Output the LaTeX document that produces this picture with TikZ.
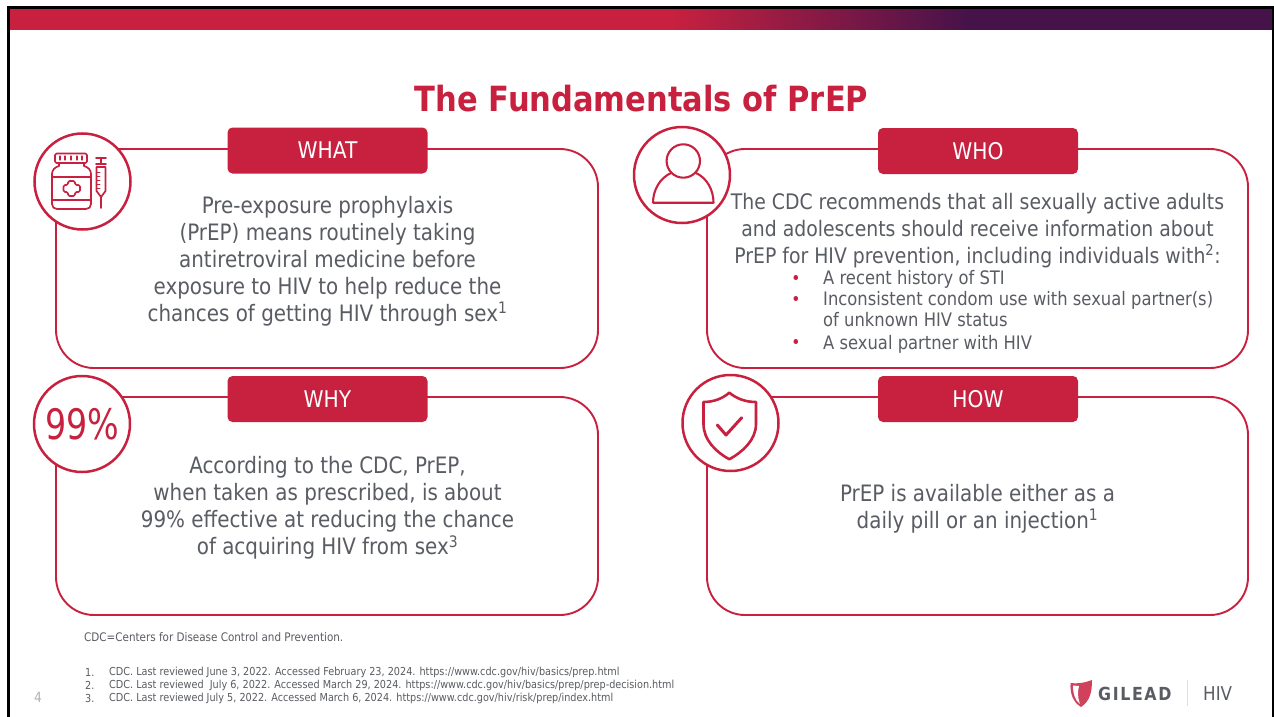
\documentclass[tikz,border=0pt]{standalone}
\usepackage{fontspec}
\setmainfont[FakeStretch=0.88]{DejaVu Sans}
\usetikzlibrary{calc}
\definecolor{gred}{HTML}{C8213F}
\definecolor{gpurple}{HTML}{45124A}
\definecolor{gtext}{HTML}{595C62}
\tikzset{
  panel/.style={draw=gred,line width=1.9pt,rounded corners=38pt,fill=white},
  tag/.style={fill=gred,text=white,rounded corners=5pt,minimum width=200pt,minimum height=46pt,inner sep=0pt,font=\fontsize{23}{27}\selectfont},
  badge/.style={circle,draw=gred,line width=2.5pt,fill=white,minimum size=96pt,inner sep=0pt},
  body/.style={text=gtext,align=center,font=\fontsize{22.6}{27}\selectfont,inner sep=0pt},
  bodywho/.style={text=gtext,align=center,font=\fontsize{21.4}{27}\selectfont,inner sep=0pt},
  icon/.style={draw=gred,line width=1.7pt,line join=round,line cap=round},
  small/.style={text=gtext,anchor=west,inner sep=0pt,font=\fontsize{11}{12}\selectfont},
  dotmark/.style={text=gred,inner sep=0pt,font=\fontsize{17.5}{21}\selectfont},
  item/.style={text=gtext,anchor=west,inner sep=0pt,font=\fontsize{18.6}{21.5}\selectfont}
}
\begin{document}
\begin{tikzpicture}[x=1pt,y=-1pt]
\useasboundingbox (0,0) rectangle (1274,717);
\fill[white] (0,0) rectangle (1274,717);
% frame and bar
\fill[gred] (9,9) rectangle (671,30);
\shade[left color=gred,right color=gpurple,shading angle=90] (670,9) rectangle (970,30);
\fill[gpurple] (969,9) rectangle (1272,30);
\fill[black] (7,6) rectangle (1274,9);
\fill[black] (7,6) rectangle (9.5,717);
\fill[black] (1272,6) rectangle (1273.5,717);
\node[text=gred,font=\bfseries\fontsize{34.7}{40}\selectfont,inner sep=0pt] (title) at (641.5,98.5) {The Fundamentals of PrEP};
% panels
\node[panel,minimum width=542pt,minimum height=219pt] (pwhat) at (327,258.5) {};
\node[panel,minimum width=541pt,minimum height=219pt] (pwho) at (977.5,258.5) {};
\node[panel,minimum width=542pt,minimum height=218pt] (pwhy) at (327,506) {};
\node[panel,minimum width=541pt,minimum height=218pt] (phow) at (977.5,506) {};
% tags
\node[tag] (twhat) at (327.5,150.5) {WHAT};
\node[tag] (twho) at (978,151) {WHO};
\node[tag] (twhy) at (327.5,399) {WHY};
\node[tag] (thow) at (978,399) {HOW};
% badges
\node[badge] (bwhat) at (82.5,181.5) {};
\node[badge] (bwho) at (682,175) {};
\node[badge] (bwhy) at (82,424) {};
\node[text=gred,inner sep=0pt,font=\fontsize{42}{46}\selectfont,xscale=.9] (pct) at (bwhy) {99\%};
\node[badge] (bhow) at (730.5,423) {};
% bottle and syringe
\draw[icon,rounded corners=1.5pt] (55,153.5) rectangle (87,163);
\draw[icon,line width=1.2pt] (60,156) -- (60,160) (65,156) -- (65,160) (71,156) -- (71,160) (77,156) -- (77,160) (82,156) -- (82,160);
\draw[icon] (59,163) -- (59,166) .. controls (55,167) and (52,170) .. (52,174) -- (52,204) .. controls (52,207) and (54,209) .. (57,209) -- (86,209) .. controls (89,209) and (91,207) .. (91,204) -- (91,174) .. controls (91,170) and (88,167) .. (84,166) -- (84,163);
\draw[icon] (52,177) -- (91,177) (52,200) -- (91,200);
\draw[icon,rounded corners=1.5pt] (68,181) -- (75,181) -- (75,185) -- (80,185) -- (80,192) -- (75,192) -- (75,196) -- (68,196) -- (68,192) -- (63.5,192) -- (63.5,185) -- (68,185) -- cycle;
\draw[icon] (96,158) -- (106,158) (101,158) -- (101,164) (96,164) -- (106,164) (96.5,167) -- (105.5,167) -- (105.5,191) -- (101,197) -- (96.5,191) -- cycle (101,197) -- (101,208);
\draw[icon,line width=.9pt] (96.5,172) -- (100,172) (96.5,176) -- (100,176) (96.5,180) -- (100,180) (96.5,184) -- (100,184) (96.5,188) -- (100,188);
% person
\draw[icon,line width=2.1pt] (683.3,161) circle (16.7pt);
\draw[icon,line width=2.1pt] (653,202.7) .. controls (653,190) and (660,178) .. (671,173) (696,173) .. controls (707,178) and (713.5,190) .. (713.5,202.7) -- (653,202.7);
% shield
\draw[icon,line width=2.6pt] (729.3,392.7) .. controls (722,399) and (713,402) .. (703.5,402) -- (703.5,424) .. controls (703.5,440) and (716,452) .. (729.3,459.3) .. controls (742.5,452) and (756,440) .. (756,424) -- (756,402) .. controls (746,402) and (737,399) .. (729.3,392.7) -- cycle;
\draw[icon,line width=3pt] (717.3,425) -- (726,435) -- (741.7,417.7);
% body text
\node[body] (xwhat) at (327.5,261) {Pre-exposure prophylaxis\\(PrEP) means routinely taking\\antiretroviral medicine before\\exposure to HIV to help reduce the\\chances of getting HIV through sex\textsuperscript{1}};
\node[bodywho] (xwho) at (977.5,230.5) {The CDC recommends that all sexually active adults\\and adolescents should receive information about\\PrEP for HIV prevention, including individuals with\textsuperscript{2}:};
\node[dotmark] (d1) at (796,279.5) {•};
\node[dotmark] (d2) at (796,301) {•};
\node[dotmark] (d3) at (796,344) {•};
\node[item] (li1) at (823,279.5) {A recent history of STI};
\node[item,anchor=north west,align=left] (li2) at (823,291) {Inconsistent condom use with sexual partner(s)\\of unknown HIV status};
\node[item] (li3) at (823,344) {A sexual partner with HIV};
\node[body] (xwhy) at (327.5,508) {According to the CDC, PrEP,\\when taken as prescribed, is about\\99\% effective at reducing the chance\\of acquiring HIV from sex\textsuperscript{3}};
\node[body] (xhow) at (977.5,508.5) {PrEP is available either as a\\daily pill or an injection\textsuperscript{1}};
% footnotes
\node[small,font=\fontsize{11.8}{13}\selectfont] (abbr) at (84,637.5) {CDC=Centers for Disease Control and Prevention.};
\node[small] (n1) at (85,672.5) {1.};
\node[small] (n2) at (85,685.5) {2.};
\node[small] (n3) at (85,698) {3.};
\node[small] (r1) at (109,672.5) {CDC. Last reviewed June 3, 2022. Accessed February 23, 2024. https://www.cdc.gov/hiv/basics/prep.html};
\node[small] (r2) at (109,685.5) {CDC. Last reviewed~ July 6, 2022. Accessed March 29, 2024. https://www.cdc.gov/hiv/basics/prep/prep-decision.html};
\node[small] (r3) at (109,698) {CDC. Last reviewed July 5, 2022. Accessed March 6, 2024. https://www.cdc.gov/hiv/risk/prep/index.html};
\node[text=black!30,inner sep=0pt,font=\fontsize{14}{16}\selectfont] (pg) at (38,697) {4};
% logo
\fill[gred!85!white] (1070.5,683) .. controls (1077,684) and (1084,683) .. (1092,680) .. controls (1092,692) and (1090,701) .. (1081,707) .. controls (1073,702) and (1070,694) .. (1070.5,683) -- cycle;
\fill[white] (1073,685.5) .. controls (1073,694) and (1075,700) .. (1080,704) .. controls (1077,696) and (1078,690) .. (1079,686) -- cycle;
\node[text=gtext,inner sep=0pt,anchor=west,font=\bfseries\fontsize{18}{20}\selectfont] (gil) at (1098,694) {\addfontfeature{LetterSpace=9}GILEAD};
\draw[black!12,line width=.8pt] (1187,680) -- (1187,706);
\node[text=gtext,inner sep=0pt,anchor=west,font=\fontsize{19}{20}\selectfont] (hiv) at (1203,694) {HIV};
\end{tikzpicture}
\end{document}
